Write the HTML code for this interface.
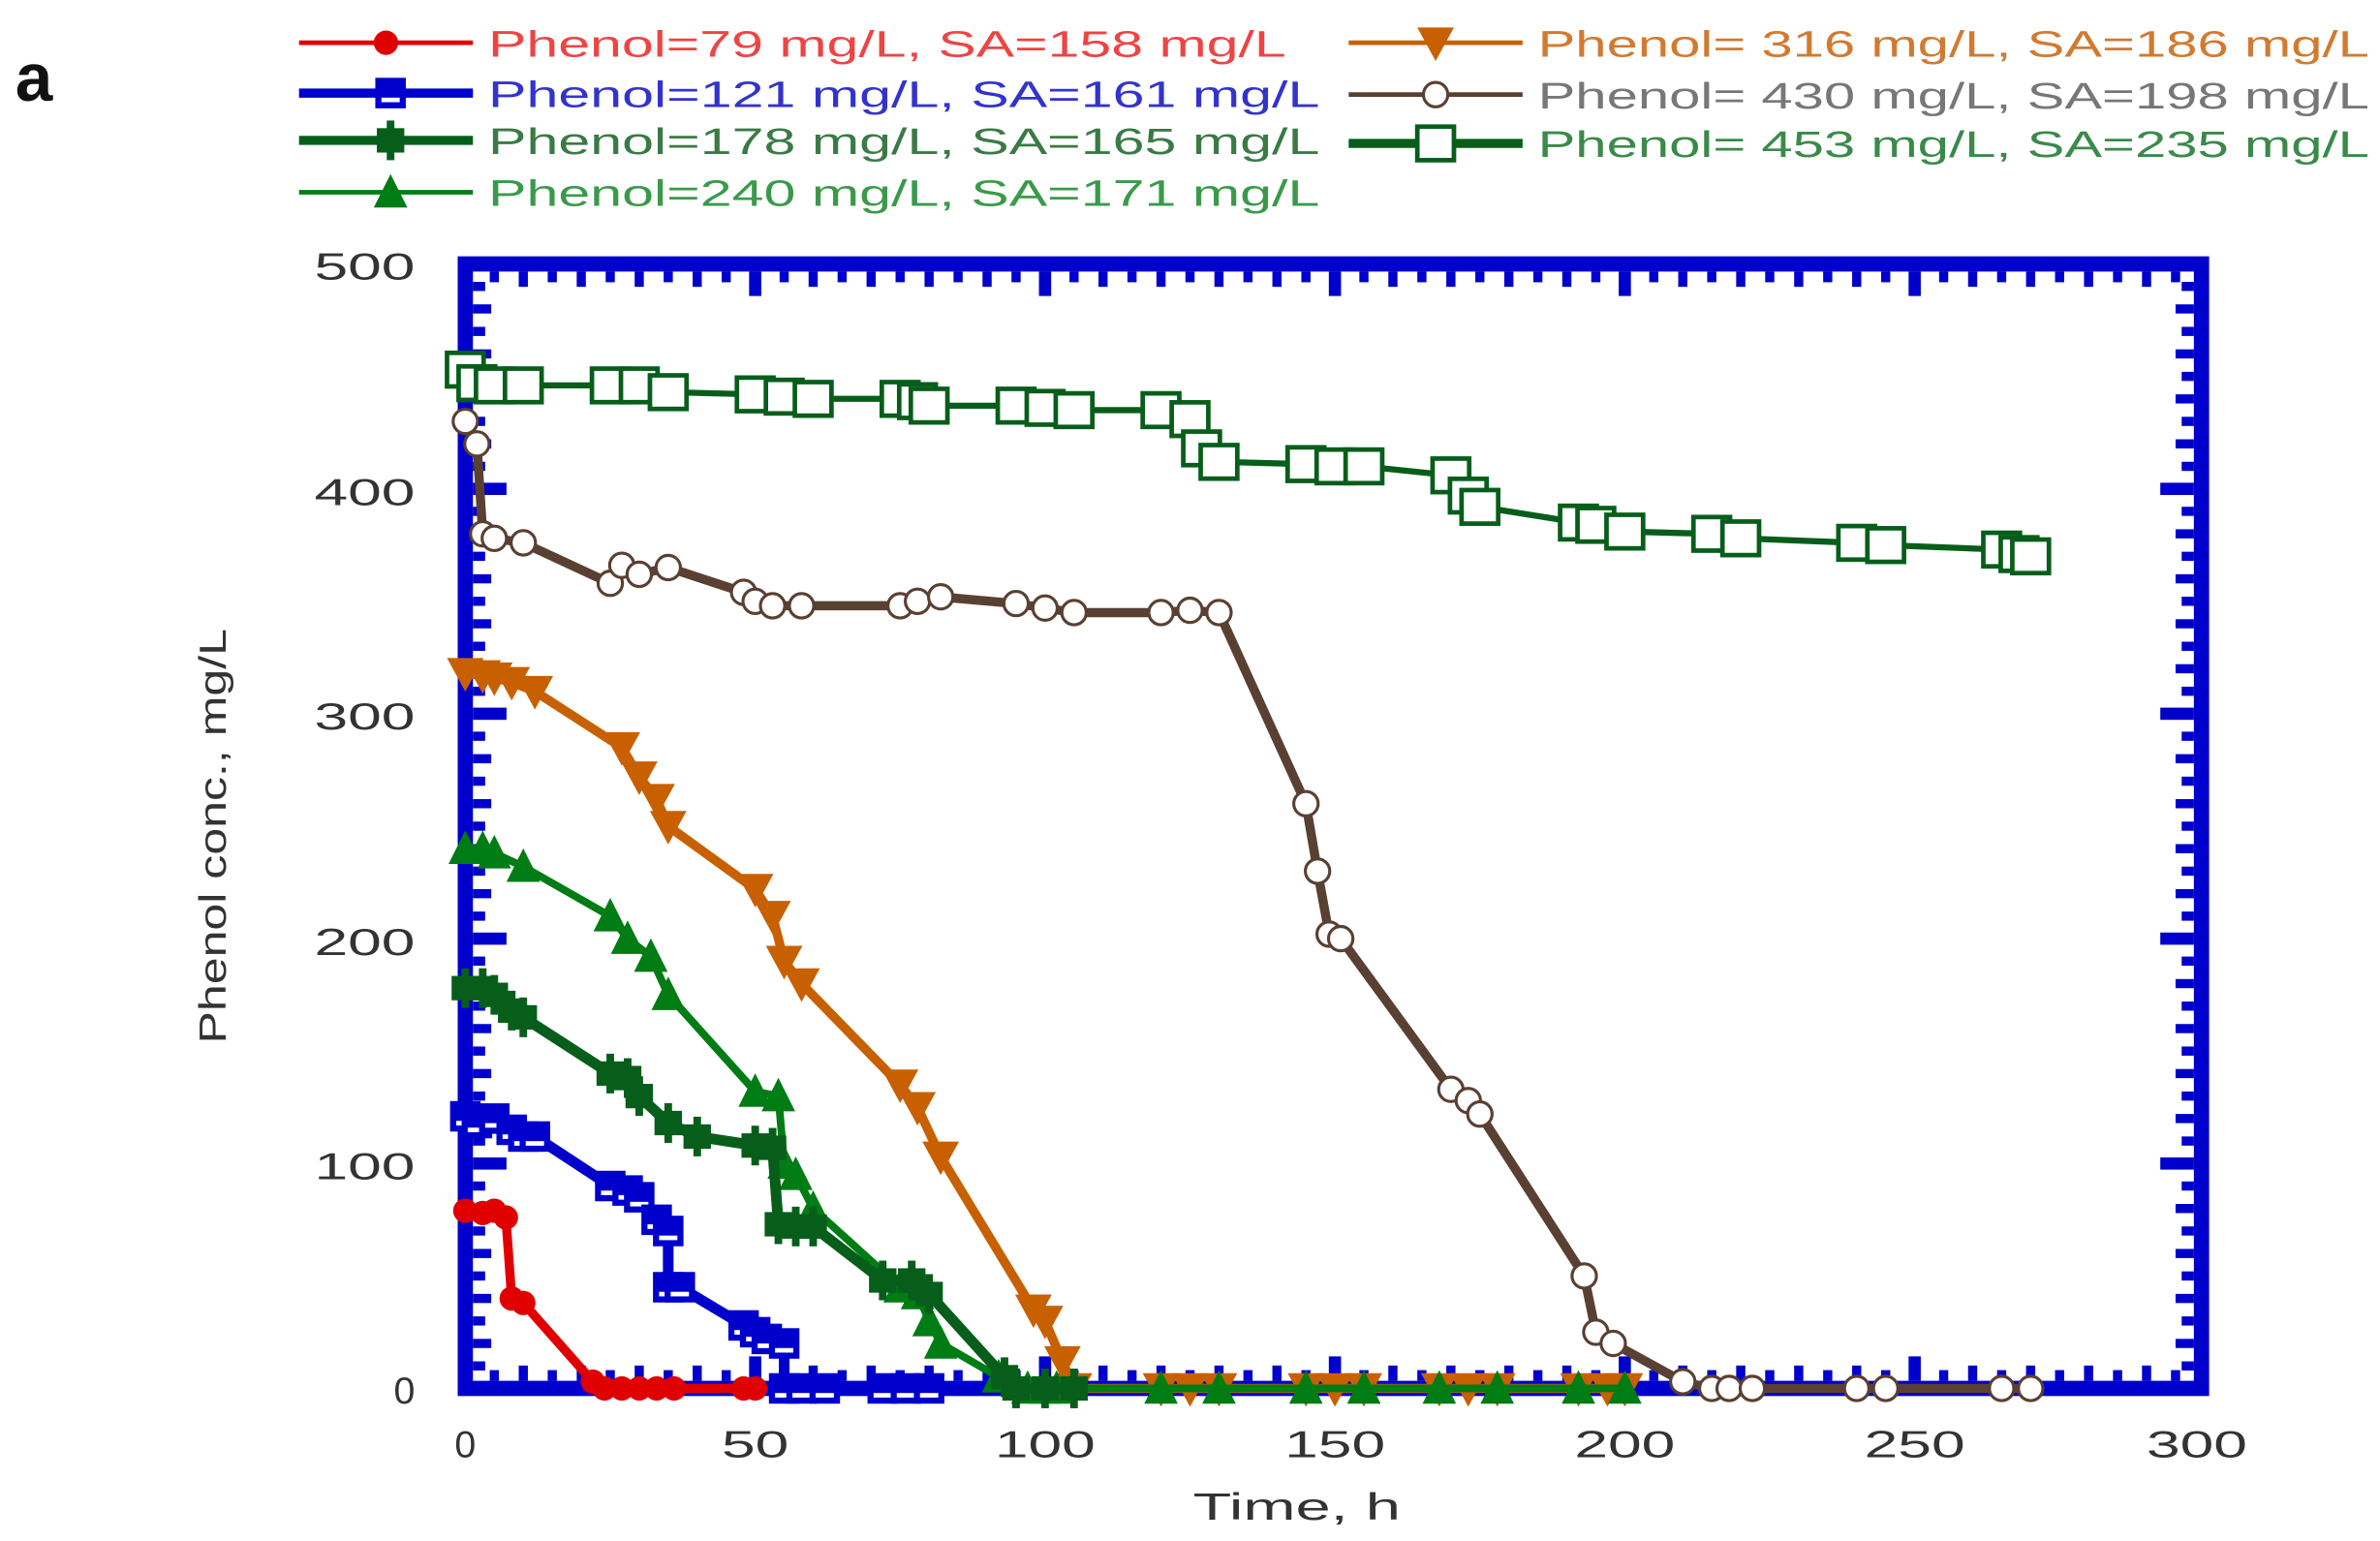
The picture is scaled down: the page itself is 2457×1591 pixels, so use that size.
<!DOCTYPE html>
<html><head><meta charset="utf-8"><style>
html,body{margin:0;padding:0;background:#fff;}
svg{display:block;}
text{font-family:"Liberation Sans",sans-serif;}
</style></head><body>
<svg width="2457" height="1591" viewBox="0 0 1560 1010" preserveAspectRatio="none" xmlns="http://www.w3.org/2000/svg">
<defs>
<g id="mc"><circle r="8" fill="#e00000"/></g>
<g id="ms"><rect x="-10" y="-10" width="20" height="20" fill="#0000cc"/><rect x="-6" y="3" width="12" height="3" fill="#fff"/></g>
<g id="md"><rect x="-9" y="-8" width="18" height="16" fill="#075e1a"/><rect x="-2.5" y="-13" width="5" height="26" fill="#075e1a"/></g>
<g id="mt"><path d="M0,-12 L11,10 L-11,10Z" fill="#007c14"/></g>
<g id="mv"><path d="M-12,-10 L12,-10 L0,12Z" fill="#c86000"/></g>
<g id="mo"><circle r="8" fill="#fff" stroke="#5a4032" stroke-width="2"/></g>
<g id="mq"><rect x="-12" y="-11" width="24" height="22" fill="#fff" stroke="#075e1a" stroke-width="3"/></g>
</defs>

<text x="10" y="66" font-family="Liberation Serif,serif" font-weight="bold" font-size="44" fill="#111">a</text>

<g font-size="24">
<line x1="196" y1="28" x2="310" y2="28" stroke="#e00000" stroke-width="3"/><use href="#mc" x="253" y="28"/>
<text x="320" y="37" fill="#e44" textLength="523" lengthAdjust="spacingAndGlyphs">Phenol=79 mg/L, SA=158 mg/L</text>
<line x1="196" y1="61" x2="310" y2="61" stroke="#0000cc" stroke-width="6"/><use href="#ms" x="256" y="61"/>
<text x="320" y="70" fill="#33c" textLength="545" lengthAdjust="spacingAndGlyphs">Phenol=121 mg/L, SA=161 mg/L</text>
<line x1="196" y1="92" x2="310" y2="92" stroke="#075e1a" stroke-width="6"/><use href="#md" x="256" y="92"/>
<text x="320" y="101" fill="#3a7a45" textLength="545" lengthAdjust="spacingAndGlyphs">Phenol=178 mg/L, SA=165 mg/L</text>
<line x1="196" y1="126" x2="310" y2="126" stroke="#007c14" stroke-width="3"/><use href="#mt" x="256" y="126"/>
<text x="320" y="135" fill="#3a9a4a" textLength="545" lengthAdjust="spacingAndGlyphs">Phenol=240 mg/L, SA=171 mg/L</text>

<line x1="884" y1="28" x2="998" y2="28" stroke="#c86000" stroke-width="3"/><use href="#mv" x="941" y="28"/>
<text x="1008" y="37" fill="#d27a30" textLength="545" lengthAdjust="spacingAndGlyphs">Phenol= 316 mg/L, SA=186 mg/L</text>
<line x1="884" y1="62" x2="998" y2="62" stroke="#5a4032" stroke-width="3"/><use href="#mo" x="941" y="62"/>
<text x="1008" y="71" fill="#777" textLength="545" lengthAdjust="spacingAndGlyphs">Phenol= 430 mg/L, SA=198 mg/L</text>
<line x1="884" y1="94" x2="998" y2="94" stroke="#075e1a" stroke-width="6"/><use href="#mq" x="941" y="94"/>
<text x="1008" y="103" fill="#3a8a4a" textLength="545" lengthAdjust="spacingAndGlyphs">Phenol= 453 mg/L, SA=235 mg/L</text>
</g>

<rect x="305" y="173" width="1138" height="737" fill="none" stroke="#0000cc" stroke-width="10"/>
<g id="ticks" fill="#0000cc"></g>

<g font-size="25" fill="#333" text-anchor="end">
<text x="272" y="183" textLength="66" lengthAdjust="spacingAndGlyphs">500</text>
<text x="272" y="331" textLength="66" lengthAdjust="spacingAndGlyphs">400</text>
<text x="272" y="478" textLength="66" lengthAdjust="spacingAndGlyphs">300</text>
<text x="272" y="626" textLength="66" lengthAdjust="spacingAndGlyphs">200</text>
<text x="272" y="773" textLength="66" lengthAdjust="spacingAndGlyphs">100</text>
<text x="272" y="920">0</text>
</g>
<g font-size="25" fill="#333" text-anchor="middle">
<text x="305" y="955">0</text>
<text x="495" y="955" textLength="44" lengthAdjust="spacingAndGlyphs">50</text>
<text x="685" y="955" textLength="66" lengthAdjust="spacingAndGlyphs">100</text>
<text x="875" y="955" textLength="66" lengthAdjust="spacingAndGlyphs">150</text>
<text x="1065" y="955" textLength="66" lengthAdjust="spacingAndGlyphs">200</text>
<text x="1255" y="955" textLength="66" lengthAdjust="spacingAndGlyphs">250</text>
<text x="1440" y="955" textLength="66" lengthAdjust="spacingAndGlyphs">300</text>
<text x="850" y="996" textLength="136" lengthAdjust="spacingAndGlyphs">Time, h</text>
<text transform="translate(148,548) rotate(-90)" textLength="272" lengthAdjust="spacingAndGlyphs">Phenol conc., mg/L</text>
</g>

<g id="series"></g>

<script>
(function(){
var NS="http://www.w3.org/2000/svg";
function X(t){return 305+t*3.8;}
function Y(v){return 910-v*1.474;}
var tk=document.getElementById('ticks');
function r(x,y,w,h){var e=document.createElementNS(NS,'rect');e.setAttribute('x',x);e.setAttribute('y',y);e.setAttribute('width',w);e.setAttribute('height',h);tk.appendChild(e);}
for(var t=5;t<300;t+=5){var L=(t%50==0)?16:(t%10==0?10:7);var w=(t%50==0)?8:6;r(X(t)-w/2,178,w,L);r(X(t)-w/2,905-L,w,L);}
for(var v=10;v<500;v+=10){var L=(v%100==0)?22:(v%20==0?12:8);var h=(v%100==0)?8:6;r(310,Y(v)-h/2,L,h);r(1438-L,Y(v)-h/2,L,h);}
var S=document.getElementById('series');
function ser(pts,col,w,mk){
 var d=pts.map(function(p,i){return (i?'L':'M')+X(p[0]).toFixed(1)+','+Y(p[1]).toFixed(1);}).join(' ');
 var pa=document.createElementNS(NS,'path');pa.setAttribute('d',d);pa.setAttribute('fill','none');pa.setAttribute('stroke',col);pa.setAttribute('stroke-width',w);pa.setAttribute('stroke-linejoin','round');S.appendChild(pa);
 pts.forEach(function(p){var u=document.createElementNS(NS,'use');u.setAttribute('href','#'+mk);u.setAttribute('x',X(p[0]));u.setAttribute('y',Y(p[1]));S.appendChild(u);});
}
ser([[0,453],[2,447],[5,446],[10,446],[25,446],[30,446],[35,443],[50,442],[55,441],[60,440],[75,440],[78,439],[80,437],[95,437],[100,436],[105,435],[120,435],[125,431],[127,418],[130,412],[145,411],[150,410],[155,410],[170,406],[173,397],[175,392],[192,385],[195,384],[200,381],[215,380],[220,378],[240,376],[245,375],[265,373],[268,371],[270,370]],'#075e1a',4,'mq');
ser([[0,430],[2,420],[3,380],[5,378],[10,376],[25,358],[27,366],[30,362],[35,365],[48,354],[50,350],[53,348],[58,348],[75,348],[78,350],[82,352],[95,349],[100,347],[105,345],[120,345],[125,346],[130,345],[145,260],[147,230],[149,202],[151,200],[170,133],[173,128],[175,122],[193,50],[195,25],[198,20],[210,3],[215,0],[218,0],[222,0],[240,0],[245,0],[265,0],[270,0]],'#5a4032',6,'mo');
ser([[0,318],[3,317],[5,316],[8,314],[12,310],[27,285],[30,272],[33,262],[35,250],[50,222],[53,210],[55,190],[58,180],[75,135],[78,125],[82,103],[98,35],[100,30],[103,12],[105,0],[120,0],[125,0],[130,0],[145,0],[150,0],[155,0],[168,0],[173,0],[178,0],[192,0],[197,0],[200,0]],'#c86000',6,'mv');
ser([[0,240],[3,240],[5,238],[10,232],[25,210],[28,200],[32,192],[35,175],[50,132],[54,130],[55,100],[57,95],[60,80],[75,45],[78,42],[80,30],[82,20],[92,5],[97,0],[100,0],[102,0],[120,0],[130,0],[145,0],[155,0],[168,0],[178,0],[192,0],[200,0]],'#007c14',5,'mt');
ser([[0,178],[3,178],[5,175],[8,168],[10,165],[25,140],[28,138],[30,130],[35,118],[40,112],[50,108],[53,107],[54,73],[57,72],[60,72],[72,48],[77,48],[80,42],[93,5],[95,0],[100,0],[105,0]],'#075e1a',7,'md');
ser([[0,121],[2,118],[5,120],[8,115],[10,112],[12,112],[25,90],[28,88],[30,85],[33,75],[35,70],[35,45],[37,45],[48,28],[50,25],[52,22],[55,20],[55,0],[58,0],[62,0],[72,0],[76,0],[80,0]],'#0000cc',7,'ms');
ser([[0,79],[3,78],[5,79],[7,76],[8,40],[10,38],[22,3],[24,0],[27,0],[30,0],[33,0],[36,0],[48,0],[50,0]],'#e00000',6,'mc');
})();
</script>
</svg>
</body></html>
